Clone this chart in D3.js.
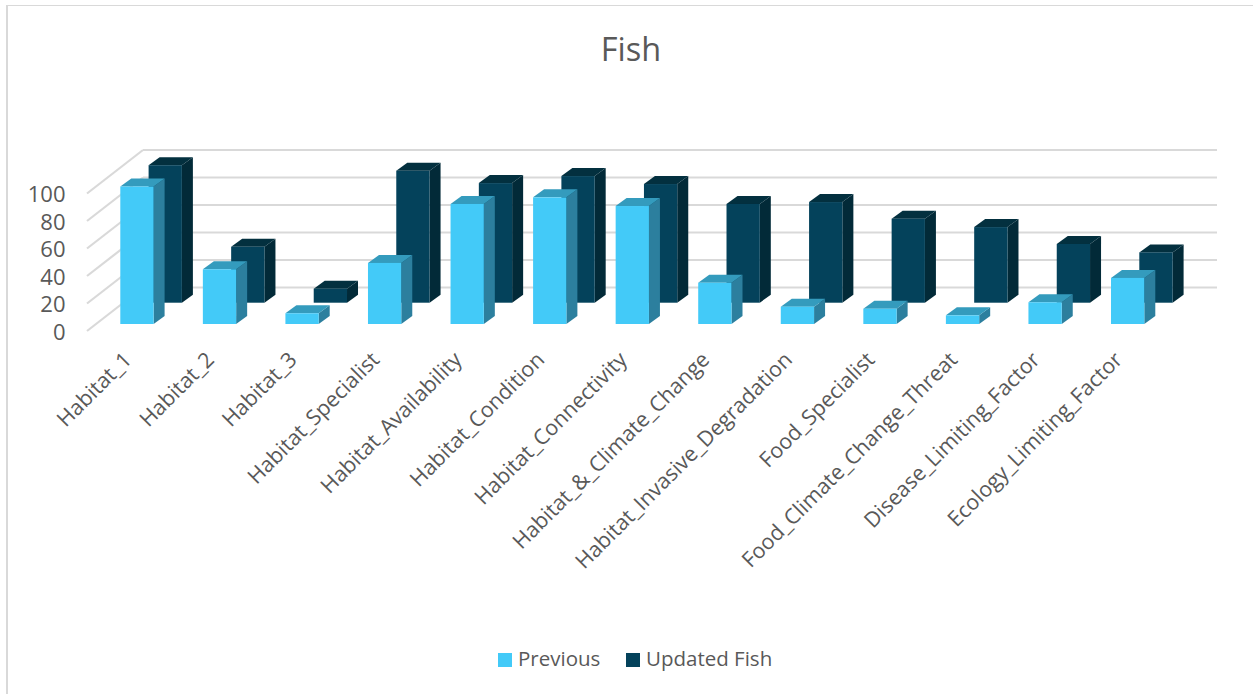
<!DOCTYPE html>
<html><head><meta charset="utf-8">
<style>html,body{margin:0;padding:0;background:#fff}svg{display:block}text{font-family:"Open Sans",sans-serif;fill:#595959}</style>
<script src="https://cdn.jsdelivr.net/npm/d3@7/dist/d3.min.js"></script>
</head><body><svg id="chart" width="1253" height="694"></svg>
<script>
const categories = ["Habitat_1","Habitat_2","Habitat_3","Habitat_Specialist","Habitat_Availability","Habitat_Condition","Habitat_Connectivity","Habitat_&_Climate_Change","Habitat_Invasive_Degradation","Food_Specialist","Food_Climate_Change_Threat","Disease_Limiting_Factor","Ecology_Limiting_Factor"];
const previous = [100,39.8,7.8,44.4,87.3,92.1,85.8,30,12.6,11.1,6.3,15.8,33.5];
const updatedFish = [100,40.7,10.2,96,87,92.1,86.3,71.8,73.2,61.1,55,42.7,36.6];
const tickValues = [0,20,40,60,80,100];
const seriesNames = ["Previous","Updated Fish"];
const faceColors = [
  {front:"#43CAF8", top:"#349BBD", side:"#2C7F9E"},
  {front:"#04425B", top:"#03303F", side:"#022A38"}
];

const svg = d3.select("#chart");
// frame around the chart area: a heavier left edge and a thin top edge
svg.append("rect").attr("x",6).attr("y",5).attr("width",2).attr("height",689).attr("fill","#d9d9d9");
svg.append("rect").attr("x",6).attr("y",5).attr("width",1247).attr("height",1).attr("fill","#d9d9d9");

// horizontal position of the front series and value-to-height scale
const x = d3.scaleBand().domain(categories).range([120.3,1144.3]).paddingInner(0.5967).paddingOuter(0);
const h = d3.scaleLinear().domain([0,100]).range([0,137.5]);
const depth = {dx:11,dy:-8};
const seriesOffset = [{x:0,y:324},{x:28.3,y:302.7}];

// back wall gridlines and side-wall diagonals
const grid = svg.append("g").attr("stroke","#d9d9d9").attr("stroke-width",2.2).attr("fill","none");
tickValues.forEach(t=>{
  const yBack = 287.5 - h(t);
  grid.append("line").attr("x1",143).attr("x2",1217).attr("y1",yBack).attr("y2",yBack);
  grid.append("line").attr("x1",87).attr("x2",143).attr("y1",yBack+43.5).attr("y2",yBack);
});

// a single bar as three faces: side, top and front
function bar(g,left,base,height,c){
  const w=x.bandwidth(), top=base-height, {dx,dy}=depth;
  g.append("path").attr("fill",c.side).attr("d",`M${left+w},${top}L${left+w+dx},${top+dy}V${base+dy}L${left+w},${base}Z`);
  g.append("path").attr("fill",c.top).attr("d",`M${left},${top}L${left+dx},${top+dy}H${left+w+dx}L${left+w},${top}Z`);
  g.append("rect").attr("x",left).attr("y",top).attr("width",w).attr("height",height).attr("fill",c.front);
}
// rear series first so the front series overlaps it
[updatedFish,previous].forEach(values=>{
  const s = values===previous?0:1;
  const g = svg.append("g");
  values.forEach((v,i)=>bar(g,x(categories[i])+seriesOffset[s].x,seriesOffset[s].y,h(v),faceColors[s]));
});

svg.append("text").attr("x",631).attr("y",61).attr("text-anchor","middle").attr("font-size",32.5).text("Fish");

svg.append("g").selectAll("text").data(tickValues).join("text")
  .attr("x",65.5).attr("y",t=>331-h(t)+8.5).attr("text-anchor","end").attr("font-size",22).text(d=>d);

svg.append("g").selectAll("text").data(categories).join("text")
  .attr("text-anchor","end").attr("font-size",21.4)
  .attr("transform",d=>`translate(${x(d)+x.bandwidth()/2-4},361) rotate(-45)`).text(d=>d);

// legend
const legend = [{x:498,tx:518},{x:626,tx:646}];
seriesNames.forEach((n,i)=>{
  svg.append("rect").attr("x",legend[i].x).attr("y",653).attr("width",14).attr("height",14).attr("fill",faceColors[i].front);
  svg.append("text").attr("x",legend[i].tx).attr("y",666).attr("font-size",20.5).text(n);
});
</script></body></html>
